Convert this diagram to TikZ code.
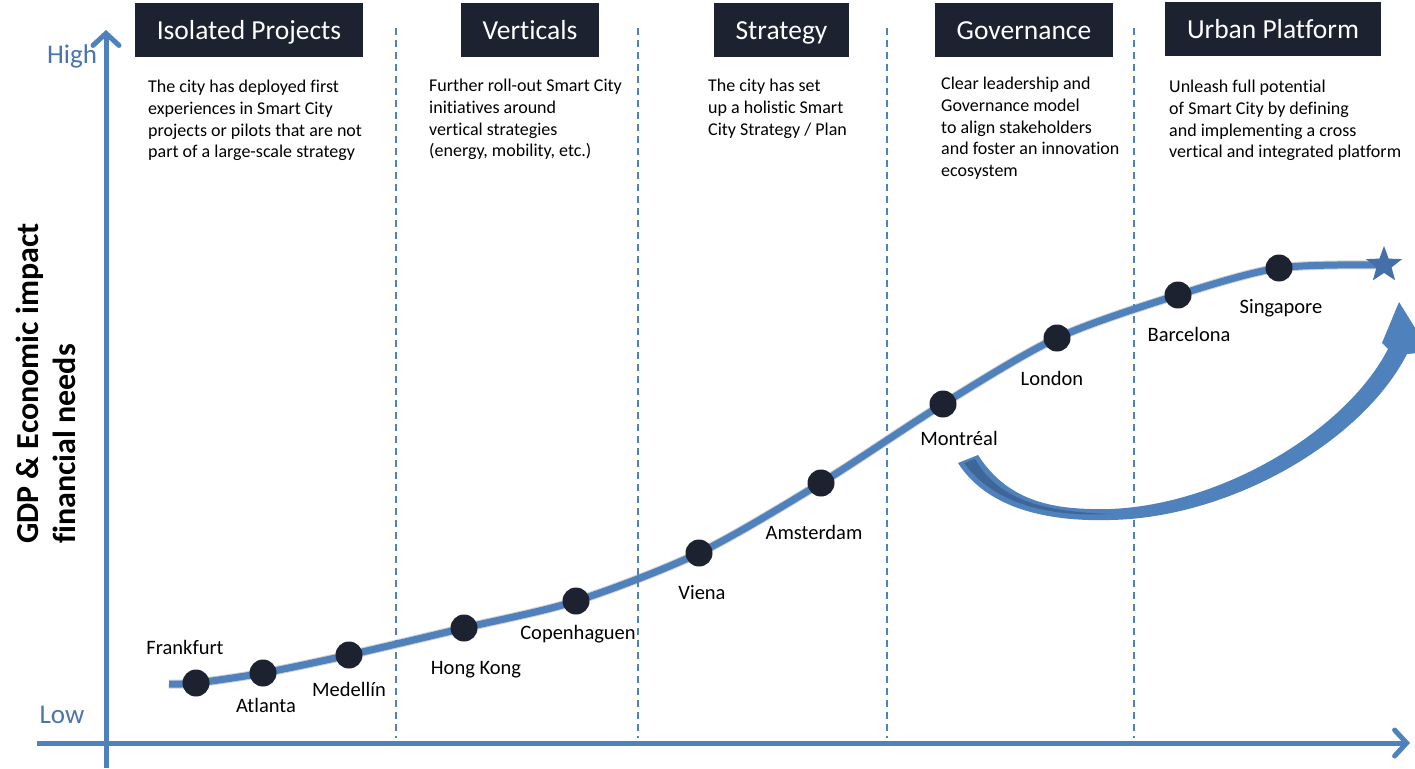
\documentclass[tikz,border=0pt]{standalone}
\usepackage{fontspec}
\setmainfont{Carlito}[Ligatures=NoCommon]
\usetikzlibrary{arrows.meta,shapes.geometric}
\definecolor{axisblue}{HTML}{4F81BD}
\definecolor{navy}{HTML}{1C2230}
\definecolor{labelblue}{HTML}{4A74AE}
\definecolor{starblue}{HTML}{4470AA}
\definecolor{darkband}{HTML}{3E6699}
\begin{document}
\begin{tikzpicture}[x=1pt,y=-1pt,
  header/.style={fill=navy,text=white,minimum height=54pt,inner sep=0pt,text height=29pt,text depth=10pt,font=\fontsize{27.5}{30}\selectfont},
  desc/.style={anchor=north west,align=left,inner sep=0pt,font=\fontsize{18}{21.7}\selectfont},
  divider/.style={axisblue,line width=1.8pt,dash pattern=on 7pt off 5pt},
  axisline/.style={axisblue,line width=5pt},
  dot/.style={circle,fill=navy,minimum size=27pt,inner sep=0pt},
  city/.style={inner sep=0pt,font=\fontsize{20.5}{22}\selectfont},
  level/.style={inner sep=0pt,text=labelblue,font=\fontsize{27}{29}\selectfont},
  ylabel/.style={rotate=90,anchor=west,inner sep=0pt,font=\fontsize{32}{34}\selectfont\bfseries}]
\clip (0,0) rectangle (1415,768);
\fill[white] (0,0) rectangle (1415,768);

% headers
\node[header,minimum width=228pt] (h1) at (249,30) {Isolated Projects};
\node[header,minimum width=138pt] (h2) at (530,30) {Verticals};
\node[header,minimum width=135pt] (h3) at (781.5,30) {Strategy};
\node[header,minimum width=178pt] (h4) at (1024,30) {Governance};
\node[header,minimum width=216pt] (h5) at (1273,29) {Urban Platform};

% descriptions
\node[desc] (d1) at (148,80) {The city has deployed first\\experiences in Smart City\\projects or pilots that are not\\part of a large-scale strategy};
\node[desc] (d2) at (429,79) {Further roll-out Smart City\\initiatives around\\vertical strategies\\(energy, mobility, etc.)};
\node[desc] (d3) at (708,79) {The city has set\\up a holistic Smart\\City Strategy / Plan};
\node[desc] (d4) at (941,77) {Clear leadership and\\Governance model\\to align stakeholders\\and foster an innovation\\ecosystem};
\node[desc] (d5) at (1169,80) {Unleash full potential\\of Smart City by defining\\and implementing a cross\\vertical and integrated platform};

% dividers
\coordinate (v1t) at (396,28); \coordinate (v1b) at (396,738);
\coordinate (v2t) at (638,28); \coordinate (v2b) at (638,738);
\coordinate (v3t) at (887,28); \coordinate (v3b) at (887,738);
\coordinate (v4t) at (1134,28); \coordinate (v4b) at (1134,738);
\draw[divider] (v1t) -- (v1b);
\draw[divider] (v2t) -- (v2b);
\draw[divider] (v3t) -- (v3b);
\draw[divider] (v4t) -- (v4b);

% axes
\coordinate (yb) at (106,768); \coordinate (yt) at (106,30);
\coordinate (xl) at (37,743); \coordinate (xr) at (1410,743);
\draw[axisline,-{Straight Barb[length=12pt,width=26pt,line cap=round]}] (yb) -- (yt);
\draw[axisline,-{Straight Barb[length=12pt,width=26pt,line cap=round]}] (xl) -- (xr);
\node[level] (high) at (72,56) {High};
\node[level] (low) at (62,715) {Low};

% y label
\node[ylabel] (ylab1) at (30,544) {GDP \& Economic impact};
\node[ylabel] (ylab2) at (64,544) {financial needs};

% curve points
\coordinate (start) at (169,684);
\coordinate (cFra) at (196,683);
\coordinate (cAtl) at (263,673);
\coordinate (cMed) at (349,655);
\coordinate (cHK) at (464,628);
\coordinate (cCop) at (576,601);
\coordinate (cVie) at (699,553);
\coordinate (cAms) at (821,483);
\coordinate (cMon) at (943,404);
\coordinate (cLon) at (1057,338);
\coordinate (cBar) at (1178,295);
\coordinate (cSin) at (1279,268);
\coordinate (cEnd) at (1384,265);

\begin{scope}[shift={(2,4)}]
\draw[black!50,opacity=0.35,line width=9pt] plot[smooth] coordinates {(start) (cFra) (cAtl) (cMed) (cHK) (cCop) (cVie) (cAms) (cMon) (cLon) (cBar) (cSin) (cEnd)};
\end{scope}
\draw[axisblue,line width=7pt] plot[smooth] coordinates {(start) (cFra) (cAtl) (cMed) (cHK) (cCop) (cVie) (cAms) (cMon) (cLon) (cBar) (cSin) (cEnd)};

% dots
\node[dot] (fra) at (cFra) {};
\node[dot] (atl) at (cAtl) {};
\node[dot] (med) at (cMed) {};
\node[dot] (hk) at (cHK) {};
\node[dot] (cop) at (cCop) {};
\node[dot] (vie) at (cVie) {};
\node[dot] (ams) at (cAms) {};
\node[dot] (mon) at (cMon) {};
\node[dot] (lon) at (cLon) {};
\node[dot] (bar) at (cBar) {};
\node[dot] (sin) at (cSin) {};
\node[star,star points=5,star point ratio=2.4,fill=starblue,minimum size=38pt,inner sep=0pt] (goal) at (cEnd) {};

% city labels
\node[city] (lfra) at (185,647) {Frankfurt};
\node[city] (latl) at (266,705) {Atlanta};
\node[city] (lmed) at (349,689) {Medellín};
\node[city] (lhk) at (476,670) {Hong Kong};
\node[city] (lcop) at (578,634) {Copenhaguen};
\node[city] (lvie) at (702,593) {Viena};
\node[city] (lams) at (814,532) {Amsterdam};
\node[city] (lmon) at (959,438) {Montréal};
\node[city] (llon) at (1052,378) {London};
\node[city] (lbar) at (1189,334) {Barcelona};
\node[city] (lsin) at (1281,308) {Singapore};

% big curved arrow
\fill[axisblue] (958,463) -- (978,455)
  .. controls (1010,505) and (1060,510) .. (1110,509)
  .. controls (1220,505) and (1345,432) .. (1388,349)
  -- (1382,343) -- (1399,302) -- (1430,352) -- (1407,354)
  .. controls (1362,442) and (1230,518) .. (1110,520)
  .. controls (1040,522) and (985,505) .. (958,463) -- cycle;
\fill[darkband] (964,463) -- (975,459)
  .. controls (1000,503) and (1050,512) .. (1112,514)
  .. controls (1050,517) and (995,505) .. (964,463) -- cycle;
\end{tikzpicture}
\end{document}
